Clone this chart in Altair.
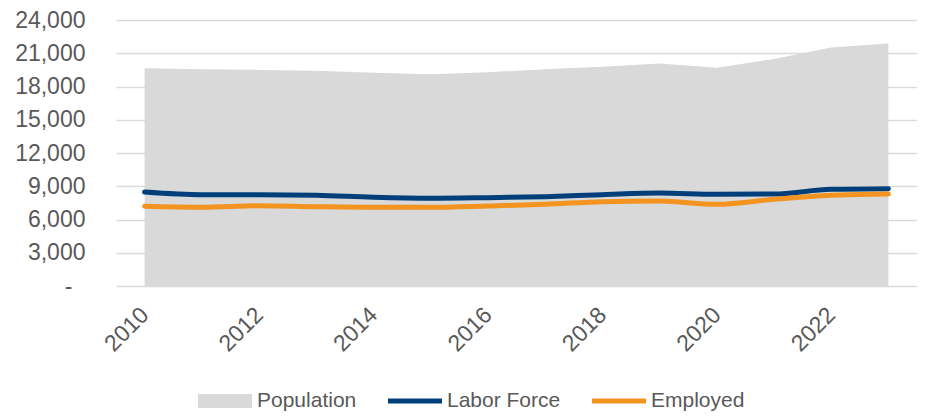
import altair as alt
import pandas as pd

years = list(range(2010, 2024))
population = [19650, 19560, 19500, 19430, 19250, 19100, 19280, 19560, 19790, 20070, 19700, 20490, 21510, 21870]
labor_force = [8480, 8240, 8240, 8180, 8000, 7910, 7970, 8060, 8240, 8390, 8270, 8300, 8720, 8780]
employed = [7190, 7100, 7250, 7160, 7100, 7100, 7220, 7370, 7610, 7670, 7370, 7820, 8180, 8300]

series_names = ["Population", "Labor Force", "Employed"]
series_colors = ["#d9d9d9", "#003f7a", "#f39420"]
y_ticks = list(range(0, 24001, 3000))
x_label_years = [2010, 2012, 2014, 2016, 2018, 2020, 2022]

df = pd.DataFrame({
    "year": years,
    "Population": population,
    "Labor Force": labor_force,
    "Employed": employed,
})

legend_df = pd.DataFrame({"series": series_names, "year": [2010] * 3, "value": [None] * 3})

FONT = "Liberation Sans"
GREY = "#595959"

x_enc = alt.X(
    "year:O",
    scale=alt.Scale(type="point", padding=0.5),
    axis=alt.Axis(
        title=None, values=x_label_years, labelAngle=315, labelAlign="right",
        labelBaseline="middle", labelPadding=25, ticks=False, domain=False, grid=False,
        labelFontSize=23, labelColor=GREY, labelFont=FONT,
    ),
)

y_scale = alt.Scale(domain=[0, 24000], nice=False, zero=True)
y_axis = alt.Axis(
    title=None, values=y_ticks, ticks=False, domain=False, grid=True,
    gridColor="#d9d9d9", gridWidth=1.5,
    labelExpr="datum.value == 0 ? '-' : format(datum.value, ',')",
    labelFontSize=23, labelColor=GREY, labelFont=FONT,
    labelPadding={"condition": {"test": "datum.value == 0", "value": 44}, "value": 31},
)

base = alt.Chart(df)

area = base.mark_area(color="#d9d9d9").encode(
    x=x_enc,
    y=alt.Y("Population:Q", scale=y_scale, axis=y_axis),
)

lf_line = base.mark_line(color="#003f7a", strokeWidth=5, strokeCap="round", interpolate="monotone").encode(
    x=x_enc, y=alt.Y("Labor Force:Q", scale=y_scale, axis=y_axis),
)

emp_line = base.mark_line(color="#f39420", strokeWidth=5, strokeCap="round", interpolate="monotone").encode(
    x=x_enc, y=alt.Y("Employed:Q", scale=y_scale, axis=y_axis),
)

w = 54.0
shape_paths = [
    "M-1,-0.26L1,-0.26L1,0.26L-1,0.26Z",
    "M-1,-0.093L1,-0.093L1,0.093L-1,0.093Z",
    "M-1,-0.093L1,-0.093L1,0.093L-1,0.093Z",
]

legend_layer = alt.Chart(legend_df).mark_point(filled=True, opacity=1, strokeWidth=0).encode(
    x=x_enc,
    y=alt.Y("value:Q", scale=y_scale, axis=y_axis),
    color=alt.Color("series:N", scale=alt.Scale(domain=series_names, range=series_colors),
                    legend=alt.Legend(title=None), sort=series_names),
    shape=alt.Shape("series:N", scale=alt.Scale(domain=series_names, range=shape_paths),
                    legend=alt.Legend(title=None), sort=series_names),
    size=alt.value(w * w),
)

chart = alt.layer(area, lf_line, emp_line, legend_layer).properties(
    width=801, height=266,
    autosize=alt.AutoSizeParams(type="none"),
    padding={"left": 108, "top": 12, "right": 0, "bottom": 128},
).configure_view(stroke=None).configure_legend(
    orient="none", legendX=82, legendY=354, direction="horizontal",
    labelFontSize=21, labelColor=GREY, labelFont=FONT, labelOffset=5,
    columnPadding=31, symbolSize=w * w, padding=0, symbolStrokeWidth=0,
)

chart.save("out.html", embed_options={"renderer": "svg", "actions": False})
